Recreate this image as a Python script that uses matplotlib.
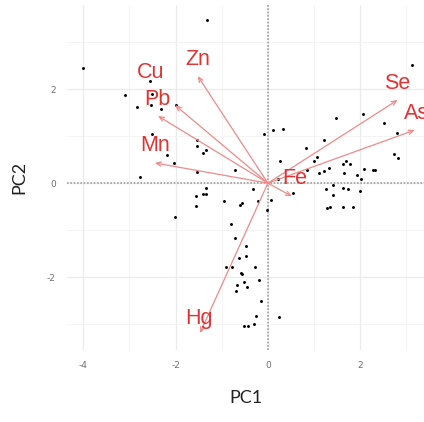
import matplotlib
matplotlib.use("Agg")
import matplotlib.pyplot as plt
from matplotlib.ticker import MultipleLocator

plt.rcParams["axes.unicode_minus"] = False

# Scores (PC1, PC2)
pc1 = [-1.31, -4.0, -3.10, -2.55, -2.50, -2.84, -2.53, -2.32, -1.98, -2.50,
       -2.19, -2.04, -1.53, -1.53, -1.40, -1.33, -1.53, -0.71, -2.77, -0.09,
       3.11, 0.10, 0.33, 1.47, 2.05, 2.51, 2.79, 1.22, 0.83, 0.27,
       1.07, 1.00, 2.72, 2.81, 1.69, 1.63, 1.77, 1.33, 1.22, 1.11,
       0.84, 1.65, 2.08, 2.28, 2.32, 1.93, 2.01, 0.21, 0.54, -0.33,
       0.06, -0.01, 1.25, 1.41, 1.42, 1.62, 1.74, 1.99, 1.29, 1.34,
       1.62, 1.85, 0.24, -1.33, -1.56, -1.41, -1.34, -1.56, -2.01, -0.96,
       -0.61, -0.21, -0.80, -0.71, -0.48, -0.48, -0.63, -0.91, -0.77, -0.27,
       -0.59, -0.56, -0.19, -0.51, -0.66, -0.45, -0.69, -0.15, -0.26, -0.51,
       -0.43, -0.30, -0.57]
pc2 = [3.47, 2.44, 1.87, 2.17, 1.89, 1.61, 1.66, 1.57, 1.66, 1.04,
       0.60, 0.42, 0.91, 0.79, 0.65, 0.70, 0.24, 0.28, 0.12, 1.04,
       2.51, 1.13, 1.16, 1.38, 1.47, 1.29, 1.06, 0.91, 0.74, 0.47,
       0.55, 0.48, 0.62, 0.54, 0.48, 0.40, 0.40, 0.33, 0.26, 0.21,
       0.28, 0.21, 0.31, 0.29, 0.28, 0.17, 0.08, 0.09, -0.21, -0.12,
       -0.36, -0.57, -0.13, -0.05, -0.25, -0.11, -0.12, -0.16, -0.53, -0.50,
       -0.50, -0.50, -2.84, -0.11, -0.28, -0.23, -0.23, -0.49, -0.72, -0.38,
       -0.46, -0.38, -0.87, -1.16, -1.33, -1.55, -1.60, -1.78, -1.79, -1.78,
       -1.91, -1.94, -2.06, -2.11, -2.16, -2.21, -2.29, -2.50, -2.82, -3.04,
       -3.04, -2.99, -0.43]

# Loadings (arrow tips) and label positions
variables = ["Zn", "Cu", "Pb", "Mn", "Se", "As", "Fe", "Hg"]
load_x = [-1.52, -2.01, -2.38, -2.45, 2.81, 3.18, 0.52, -1.47]
load_y = [2.28, 1.66, 1.43, 0.43, 1.77, 1.13, -0.28, -3.19]
label_x = [-1.52, -2.55, -2.40, -2.45, 2.81, 3.22, 0.58, -1.49]
label_y = [2.62, 2.36, 1.77, 0.81, 2.11, 1.49, 0.09, -2.89]

fig = plt.figure(figsize=(4.24, 4.22), dpi=100)
ax = fig.add_axes([67 / 424, 72 / 422, 357 / 424, 345 / 422])
ax.set_xlim(-4.35, 3.38)
ax.set_ylim(-3.55, 3.79)

for s in ax.spines.values():
    s.set_visible(False)
ax.xaxis.set_major_locator(MultipleLocator(2))
ax.yaxis.set_major_locator(MultipleLocator(2))
ax.xaxis.set_minor_locator(MultipleLocator(1))
ax.yaxis.set_minor_locator(MultipleLocator(1))
ax.grid(which="major", color="#ebebeb", lw=0.9)
ax.grid(which="minor", color="#f2f2f2", lw=0.6)
ax.set_axisbelow(True)
ax.tick_params(which="both", length=0, labelsize=6.5, labelcolor="#6e6e6e", pad=8)

ax.axhline(0, color="#a0a0a0", lw=1.2, ls=(0, (1, 1)), zorder=1)
ax.axvline(0, color="#a0a0a0", lw=1.2, ls=(0, (1, 1)), zorder=1)

ax.scatter(pc1, pc2, s=4.5, color="black", zorder=3, linewidths=0)

for v, lx, ly, tx, ty in zip(variables, load_x, load_y, label_x, label_y):
    ax.annotate("", xy=(lx, ly), xytext=(0, 0),
                arrowprops=dict(arrowstyle="->,head_length=0.35,head_width=0.15",
                                color="#f08a8a", lw=0.9, shrinkA=0, shrinkB=0),
                zorder=4)
    ax.text(tx, ty, v, color="#e03434", fontsize=15.5, family="Liberation Sans",
            ha="center", va="center", zorder=5, clip_on=False)

ax.set_xlabel("PC1", fontsize=13, family="Lato", color="#222222", labelpad=14)
ax.set_ylabel("PC2", fontsize=13, family="Lato", color="#222222", labelpad=14)

fig.savefig("out.png", dpi=100)
